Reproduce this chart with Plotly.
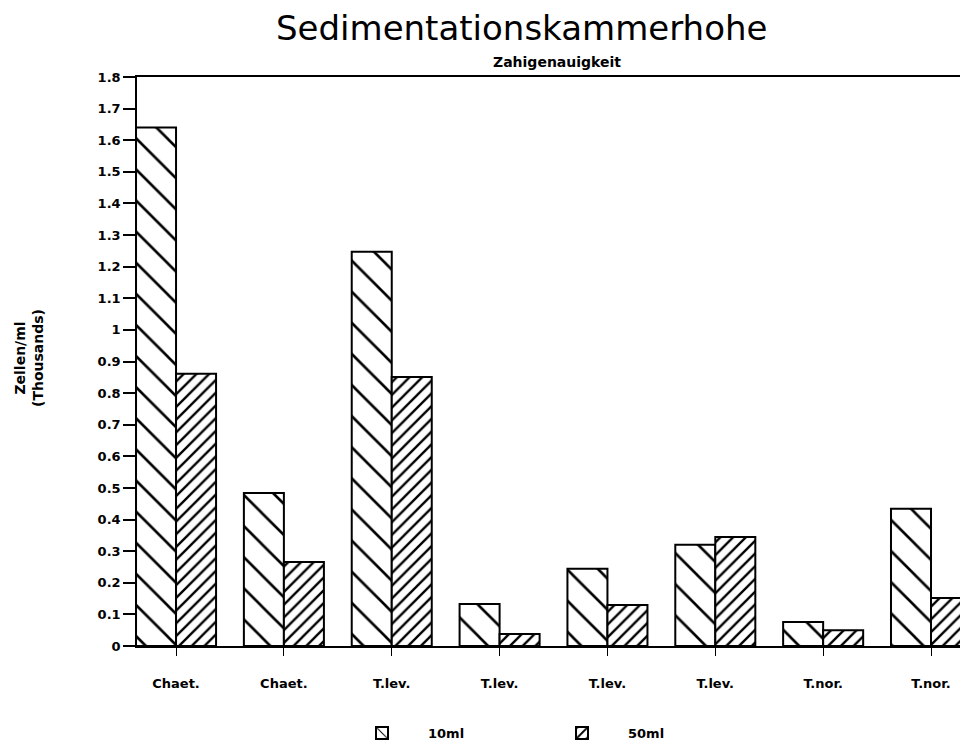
import plotly.graph_objects as go

categories = ["Chaet.", "Chaet.", "T.lev.", "T.lev.", "T.lev.", "T.lev.", "T.nor.", "T.nor."]
series_10ml = [1.64, 0.484, 1.247, 0.133, 0.244, 0.32, 0.076, 0.434]
series_50ml = [0.861, 0.266, 0.851, 0.038, 0.13, 0.345, 0.05, 0.152]
y_ticks = [round(i * 0.1, 1) for i in range(19)]

xpos = list(range(len(categories)))

fig = go.Figure()
fig.add_trace(go.Bar(
    x=xpos, y=series_10ml, name="10ml",
    marker=dict(color="white", line=dict(color="black", width=2),
                pattern=dict(shape="\\", size=22, solidity=0.12, fgcolor="black",
                             bgcolor="white", fgopacity=1)),
))
fig.add_trace(go.Bar(
    x=xpos, y=series_50ml, name="50ml",
    marker=dict(color="white", line=dict(color="black", width=2),
                pattern=dict(shape="/", size=9, solidity=0.26, fgcolor="black",
                             bgcolor="white", fgopacity=1)),
))

tickfont = dict(family="DejaVu Sans", size=13, color="black", weight="bold")

fig.update_layout(
    width=968, height=748,
    margin=dict(l=129, r=8, t=69, b=110),
    paper_bgcolor="white", plot_bgcolor="white",
    barmode="group", bargap=0.258, bargroupgap=0,
    showlegend=True,
    legend=dict(orientation="h", xref="container", x=328 / 968, xanchor="left",
                yref="container", y=1 - 725 / 748, yanchor="middle",
                font=dict(family="DejaVu Sans", size=13, color="black", weight="bold"),
                itemwidth=82, entrywidth=103),
    xaxis=dict(range=[-0.362, 7.343], tickmode="array", tickvals=xpos, ticktext=categories,
               showline=True, linecolor="black", linewidth=2, mirror=True,
               ticks="outside", ticklen=8, tickcolor="black", tickwidth=1,
               showgrid=False, zeroline=False, tickfont=tickfont, ticklabelstandoff=16),
    yaxis=dict(range=[0, 1.8], tickmode="array", tickvals=y_ticks,
               showline=True, linecolor="black", linewidth=1.5,
               ticks="outside", ticklen=12, tickcolor="black", tickwidth=2,
               showgrid=False, zeroline=False, tickfont=tickfont),
    annotations=[
        dict(text="Sedimentationskammerhohe", xref="paper", yref="paper",
             x=(521 - 137) / 831, y=1 + (77 - 28) / 569, xanchor="center", yanchor="middle",
             showarrow=False, font=dict(family="DejaVu Sans", size=34, color="black")),
        dict(text="<b>Zahigenauigkeit</b>", xref="paper", yref="paper",
             x=(557 - 137) / 831, y=1 + (77 - 62) / 569, xanchor="center", yanchor="middle",
             showarrow=False, font=dict(family="DejaVu Sans", size=14, color="black")),
        dict(text="<b>Zellen/ml<br>(Thousands)</b>", xref="paper", yref="paper",
             x=-(137 - 29) / 831, y=(646 - 358) / 569, xanchor="center", yanchor="middle",
             textangle=-90, showarrow=False,
             font=dict(family="DejaVu Sans", size=14, color="black")),
    ],
)

fig.write_html("out.html")
